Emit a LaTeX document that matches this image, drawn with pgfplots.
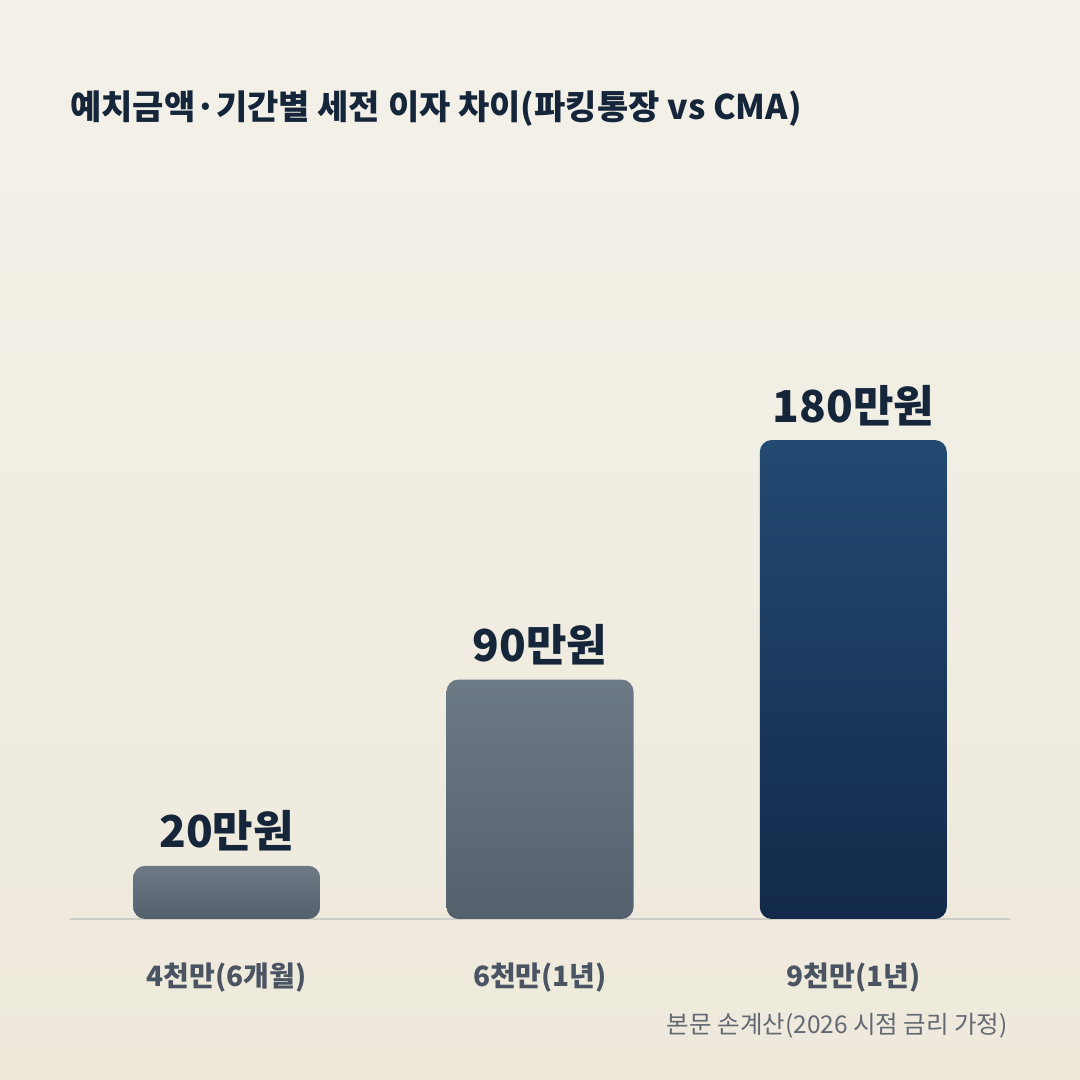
\documentclass[border=0pt]{standalone}
\usepackage{pgfplots}
\pgfplotsset{compat=1.18}
\usepackage{fontspec}
\setmainfont{Noto Sans CJK KR}
\definecolor{bgtop}{HTML}{F3F1E9}
\definecolor{bgbot}{HTML}{EEE9DB}
\definecolor{titlec}{HTML}{15263A}
\definecolor{catc}{HTML}{4A5462}
\definecolor{notec}{HTML}{636973}
\definecolor{graytop}{HTML}{6C7A86}
\definecolor{graybot}{HTML}{55606D}
\definecolor{navytop}{HTML}{234A72}
\definecolor{navybot}{HTML}{12294A}
\definecolor{basec}{HTML}{CFCFC8}
\begin{document}
\begin{tikzpicture}[x=1pt,y=1pt]
\shade[top color=bgtop,bottom color=bgbot] (0,0) rectangle (1080,1080);
\node[anchor=base west, inner sep=0, font=\fontsize{34}{40}\selectfont\bfseries, text=titlec] at (70,960) {예치금액·기간별 세전 이자 차이(파킹통장 vs CMA)};
\node[anchor=base east, inner sep=0, font=\fontsize{24.5}{28}\selectfont, text=notec] at (1008,46) {본문 손계산(2026 시점 금리 가정)};
\begin{axis}[
  at={(70pt,161pt)}, anchor=south west,
  scale only axis, width=940pt, height=798.3pt,
  xmin=-0.5, xmax=2.5, ymin=0, ymax=300,
  axis line style={draw=none}, tick style={draw=none},
  ytick=\empty,
  xtick={0,1,2},
  xticklabels={4천만(6개월),6천만(1년),9천만(1년)},
  xticklabel style={anchor=base, inner sep=0, yshift=-63pt, font=\fontsize{28}{32}\selectfont\bfseries, text=catc},
  ybar, bar width=187pt,
  point meta=explicit symbolic,
  nodes near coords,
  every node near coord/.append style={anchor=base, inner sep=0, yshift=18pt, font=\fontsize{44}{50}\selectfont\bfseries, text=titlec},
  clip=false,
]
\draw[basec, line width=1.2pt] (axis cs:-0.5,0) -- (axis cs:2.5,0);
\addplot[bar shift=0pt, draw=none, rounded corners=12pt, top color=graytop, bottom color=graybot] coordinates {(0,20) [20만원]};
\addplot[bar shift=0pt, draw=none, rounded corners=12pt, top color=graytop, bottom color=graybot] coordinates {(1,90) [90만원]};
\addplot[bar shift=0pt, draw=none, rounded corners=12pt, top color=navytop, bottom color=navybot] coordinates {(2,180) [180만원]};
\end{axis}
\end{tikzpicture}
\end{document}
